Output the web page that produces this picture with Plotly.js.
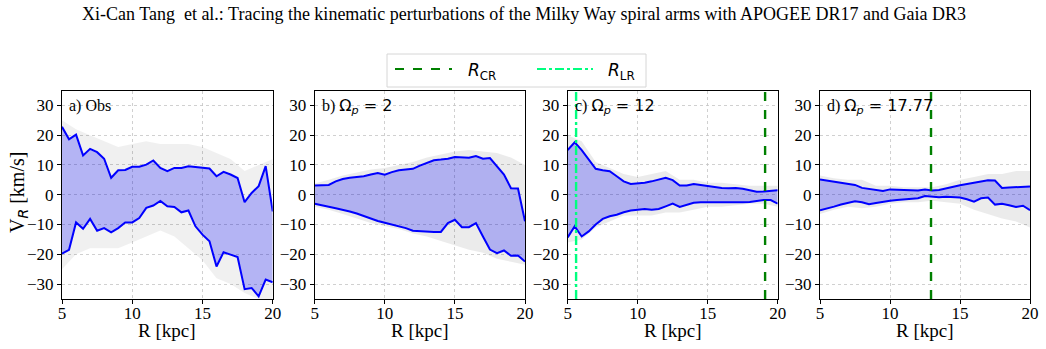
<!DOCTYPE html>
<html>
<head>
<meta charset="utf-8">
<script src="https://cdn.plot.ly/plotly-3.0.1.min.js"></script>
<style>
  html, body { margin: 0; padding: 0; background: #fff; }
  #chart { width: 1046px; height: 349px; }
</style>
</head>
<body>
<div id="chart"></div>
<script>
// Galactocentric radius grid of the binned envelopes (kpc)
var R = [5, 5.5, 6, 6.5, 7, 7.5, 8, 8.5, 9, 9.5, 10, 10.5, 11, 11.5, 12, 12.5,
         13, 13.5, 14, 14.5, 15, 15.5, 16, 16.5, 17, 17.5, 18, 18.5, 19, 19.5, 20];

// a) Observed: upper / lower envelope of V_R (km/s)
var upA = [22.8, 18.6, 20.2, 13.2, 15.4, 14.3, 12.1, 5.7, 8.2, 8.3, 9.4, 9.4, 10.1, 11.5, 9.0, 7.9,
           9.0, 9.0, 9.6, 9.4, 9.0, 8.8, 6.2, 7.7, 6.8, 5.6, -2.5, 0.6, 2.9, 9.6, -5.6];
var loA = [-19.8, -18.5, -9.3, -11.4, -8.1, -12.1, -11.2, -12.6, -11.2, -9.3, -9.3, -7.8, -4.4, -3.6, -2.1, -3.9,
           -4.1, -5.9, -5.3, -10.6, -13.4, -15.6, -24.1, -19.3, -20.1, -20.9, -31.7, -31.3, -34.1, -28.5, -29.4];

// b) Omega_p = 2
var upB = [3.1, 3.3, 3.3, 4.5, 5.3, 5.7, 5.9, 6.2, 6.8, 7.3, 6.7, 7.6, 8.2, 8.5, 8.7, 9.8,
           10.7, 11.6, 11.8, 12.1, 12.7, 12.6, 12.4, 13.0, 12.1, 12.3, 9.4, 6.8, 2.2, 2.1, -8.9];
var loB = [-3.0, -3.4, -4.0, -4.5, -5.0, -5.6, -6.3, -7.2, -8.0, -8.8, -9.4, -10.0, -10.5, -11.2, -12.1, -12.3,
           -12.3, -12.5, -12.5, -9.5, -8.4, -10.9, -10.9, -9.5, -14.0, -18.4, -19.6, -18.7, -20.5, -20.4, -22.4];

// c) Omega_p = 12
var upC = [15.0, 17.6, 15.0, 11.8, 8.7, 8.2, 7.9, 6.2, 4.5, 3.6, 3.8, 4.0, 4.5, 5.1, 5.7, 4.9,
           3.1, 3.1, 3.6, 3.3, 2.9, 2.6, 2.3, 2.2, 2.3, 2.0, 1.4, 1.0, 1.1, 1.2, 1.5];
var loC = [-14.3, -10.6, -14.0, -12.3, -10.0, -8.1, -7.2, -6.7, -5.9, -5.3, -5.0, -4.8, -5.0, -4.8, -3.9, -3.0,
           -4.1, -3.3, -2.7, -2.5, -2.5, -2.5, -2.7, -2.5, -2.5, -2.5, -2.4, -2.1, -1.8, -1.8, -3.0];

// d) Omega_p = 17.77
var upD = [5.1, 4.7, 4.3, 4.0, 3.6, 3.3, 2.3, 1.9, 1.6, 1.3, 1.8, 1.7, 1.6, 1.5, 1.4, 1.8,
           1.4, 1.6, 2.2, 2.7, 3.2, 3.6, 4.0, 4.5, 4.9, 4.8, 2.3, 2.4, 2.5, 2.7, 2.8];
var loD = [-5.2, -4.7, -4.0, -3.3, -2.7, -2.2, -2.5, -3.2, -2.8, -2.3, -2.0, -1.8, -1.6, -1.4, -1.2, -0.4,
           -0.6, -0.8, -0.7, -0.8, -0.9, -1.5, -2.3, -1.2, -0.9, -3.3, -3.0, -3.5, -4.1, -3.7, -5.2];

// Extent of the star / particle clouds behind the envelopes (1 kpc steps)
var Rc = [5, 6, 7, 8, 9, 10, 11, 12, 13, 14, 15, 16, 17, 18, 19, 20];
var cloudHiA = [25, 22, 20, 18, 16, 17, 18, 17, 17, 17, 16, 14, 12, 8, 10, 12];
var cloudLoA = [-25, -20, -18, -18, -18, -16, -14, -12, -14, -18, -22, -28, -30, -33, -35, -35];
var cloudHiB = [3.8, 5, 6.5, 7.5, 8.5, 9.0, 10.0, 11.0, 12.5, 13.5, 14.5, 15, 14.5, 14, 12.5, 10];
var cloudLoB = [-4, -5, -6.5, -8, -9.5, -10.5, -11.5, -13, -14, -15.5, -17, -18.5, -19.5, -21.5, -22.5, -23.5];
var cloudHiC = [20, 18, 11, 9, 7, 6, 7, 8, 5, 5, 4, 4, 3.5, 3, 3, 3];
var cloudLoC = [-16, -15, -11, -9, -7, -7, -7, -6, -6, -5, -4, -4, -3.5, -3, -3, -4];
var cloudHiD = [6.5, 5.5, 5, 5, 3, 3, 2.5, 2.5, 2.5, 3.5, 5, 6, 7, 7, 8, 8];
var cloudLoD = [-6.5, -5, -4, -4.5, -4, -3, -2.5, -2.5, -2, -2.5, -3, -5, -6.5, -8, -9, -11];

// Resonance radii (kpc)
var rcrC = 19.1, rlrC = 5.6, rcrD = 12.93;

var panelLabels = [
  'a) Obs',
  'b) <span style="font-family:\'DejaVu Sans\'">Ω<sub><i>p</i></sub> = 2</span>',
  'c) <span style="font-family:\'DejaVu Sans\'">Ω<sub><i>p</i></sub> = 12</span>',
  'd) <span style="font-family:\'DejaVu Sans\'">Ω<sub><i>p</i></sub> = 17.77</span>'
];
var xTicks = [5, 10, 15, 20];
var yTicks = [-30, -20, -10, 0, 10, 20, 30];

var W = 1046, H = 349;
function px(x) { return x / W; }
function py(y) { return 1 - y / H; }

var panels = [
  {up: upA, lo: loA, ch: cloudHiA, cl: cloudLoA, cloudAlpha: 0.06},
  {up: upB, lo: loB, ch: cloudHiB, cl: cloudLoB, cloudAlpha: 0.08},
  {up: upC, lo: loC, ch: cloudHiC, cl: cloudLoC, cloudAlpha: 0.08},
  {up: upD, lo: loD, ch: cloudHiD, cl: cloudLoD, cloudAlpha: 0.08}
];

var traces = [];
panels.forEach(function (p, i) {
  var xa = i === 0 ? 'x' : 'x' + (i + 1);
  var ya = i === 0 ? 'y' : 'y' + (i + 1);
  traces.push({x: Rc, y: p.cl, xaxis: xa, yaxis: ya, mode: 'lines', line: {width: 0},
               showlegend: false, hoverinfo: 'skip'});
  traces.push({x: Rc, y: p.ch, xaxis: xa, yaxis: ya, mode: 'lines', line: {width: 0},
               fill: 'tonexty', fillcolor: 'rgba(0,0,0,' + p.cloudAlpha + ')',
               showlegend: false, hoverinfo: 'skip'});
  traces.push({x: R, y: p.lo, xaxis: xa, yaxis: ya, mode: 'lines',
               line: {color: '#0000ff', width: 2}, showlegend: false});
  traces.push({x: R, y: p.up, xaxis: xa, yaxis: ya, mode: 'lines',
               line: {color: '#0000ff', width: 2}, fill: 'tonexty',
               fillcolor: 'rgba(0,0,255,0.25)', showlegend: false});
});

// Resonance markers
function vline(x, xa, ya, color, dash) {
  return {x: [x, x], y: [-35, 35], xaxis: xa, yaxis: ya, mode: 'lines',
          line: {color: color, width: 2.4, dash: dash}, showlegend: false};
}
var crColor = '#008000', lrColor = '#00ff7f';
traces.push(vline(rlrC, 'x3', 'y3', lrColor, 'dashdot'));
traces.push(vline(rcrC, 'x3', 'y3', crColor, 'dash'));
traces.push(vline(rcrD, 'x4', 'y4', crColor, 'dash'));

var serif = 'Liberation Serif, Times New Roman, serif';
var xDomains = [[62, 272.7], [314.7, 525], [567.7, 777.7], [820, 1030]];
var yDomain = [py(299), py(90.5)];

var layout = {
  width: W, height: H,
  margin: {l: 0, r: 0, t: 0, b: 0},
  paper_bgcolor: '#fff', plot_bgcolor: '#fff',
  showlegend: false,
  font: {family: serif, color: '#000', size: 17},
  annotations: [],
  shapes: []
};

xDomains.forEach(function (d, i) {
  var sfx = i === 0 ? '' : String(i + 1);
  var common = {
    showline: true, mirror: true, linecolor: '#000', linewidth: 1,
    ticks: 'outside', ticklen: 4, tickcolor: '#000', tickwidth: 1,
    showgrid: true, gridcolor: '#c4c4c4', griddash: 'dot', gridwidth: 0.8,
    zeroline: false, tickfont: {family: serif, size: 17, color: '#000'}
  };
  layout['xaxis' + sfx] = Object.assign({}, common, {
    domain: [px(d[0]), px(d[1])], range: [5, 20], tickvals: xTicks,
    anchor: 'y' + sfx, ticklabelstandoff: -5
  });
  layout['yaxis' + sfx] = Object.assign({}, common, {
    domain: yDomain, range: [-35, 35], tickvals: yTicks, anchor: 'x' + sfx
  });
  // x-axis title under each panel
  layout.annotations.push({
    text: 'R [kpc]', xref: 'x' + sfx + ' domain', yref: 'paper',
    x: 0.5, y: py(330), xanchor: 'center', yanchor: 'middle', showarrow: false,
    font: {family: serif, size: 19, color: '#000'}
  });
  layout.annotations.push({
    text: panelLabels[i], xref: 'x' + sfx + ' domain', yref: 'y' + sfx + ' domain',
    x: 0.025, y: 0.925, xanchor: 'left', yanchor: 'middle', showarrow: false,
    font: {family: serif, size: 16, color: '#000'}
  });
});

// y-axis title of the first panel
layout.annotations.push({
  text: 'V<sub><span style="font-family:\'DejaVu Sans\'"><i>R</i></span></sub> [km/s]',
  xref: 'paper', yref: 'paper',
  x: px(18), y: py(193), xanchor: 'center', yanchor: 'middle', textangle: -90,
  showarrow: false, font: {family: serif, size: 20, color: '#000'}
});

// Page header
layout.annotations.push({
  text: 'Xi-Can Tang  et al.: Tracing the kinematic perturbations of the Milky Way spiral arms with APOGEE DR17 and Gaia DR3',
  xref: 'paper', yref: 'paper', x: px(524), y: py(14), xanchor: 'center', yanchor: 'middle',
  showarrow: false, font: {family: serif, size: 18, color: '#000'}
});

// Legend box with the two resonance entries
layout.shapes.push({type: 'rect', xref: 'paper', yref: 'paper',
  x0: px(387), x1: px(646), y0: py(87), y1: py(54),
  line: {color: '#d6d6d6', width: 1}, fillcolor: 'rgba(255,255,255,0.8)'});
layout.shapes.push({type: 'line', xref: 'paper', yref: 'paper',
  x0: px(395), x1: px(452), y0: py(69), y1: py(69),
  line: {color: crColor, width: 2, dash: 'dash'}});
layout.shapes.push({type: 'line', xref: 'paper', yref: 'paper',
  x0: px(537), x1: px(593), y0: py(69), y1: py(69),
  line: {color: lrColor, width: 2, dash: 'dashdot'}});
var legFont = {family: 'DejaVu Sans, sans-serif', size: 17, color: '#000'};
layout.annotations.push({text: '<i>R</i><sub>CR</sub>', xref: 'paper', yref: 'paper',
  x: px(466), y: py(71), xanchor: 'left', yanchor: 'middle', showarrow: false, font: legFont});
layout.annotations.push({text: '<i>R</i><sub>LR</sub>', xref: 'paper', yref: 'paper',
  x: px(606), y: py(71), xanchor: 'left', yanchor: 'middle', showarrow: false, font: legFont});

Plotly.newPlot('chart', traces, layout, {displayModeBar: false, staticPlot: true});
</script>
</body>
</html>
